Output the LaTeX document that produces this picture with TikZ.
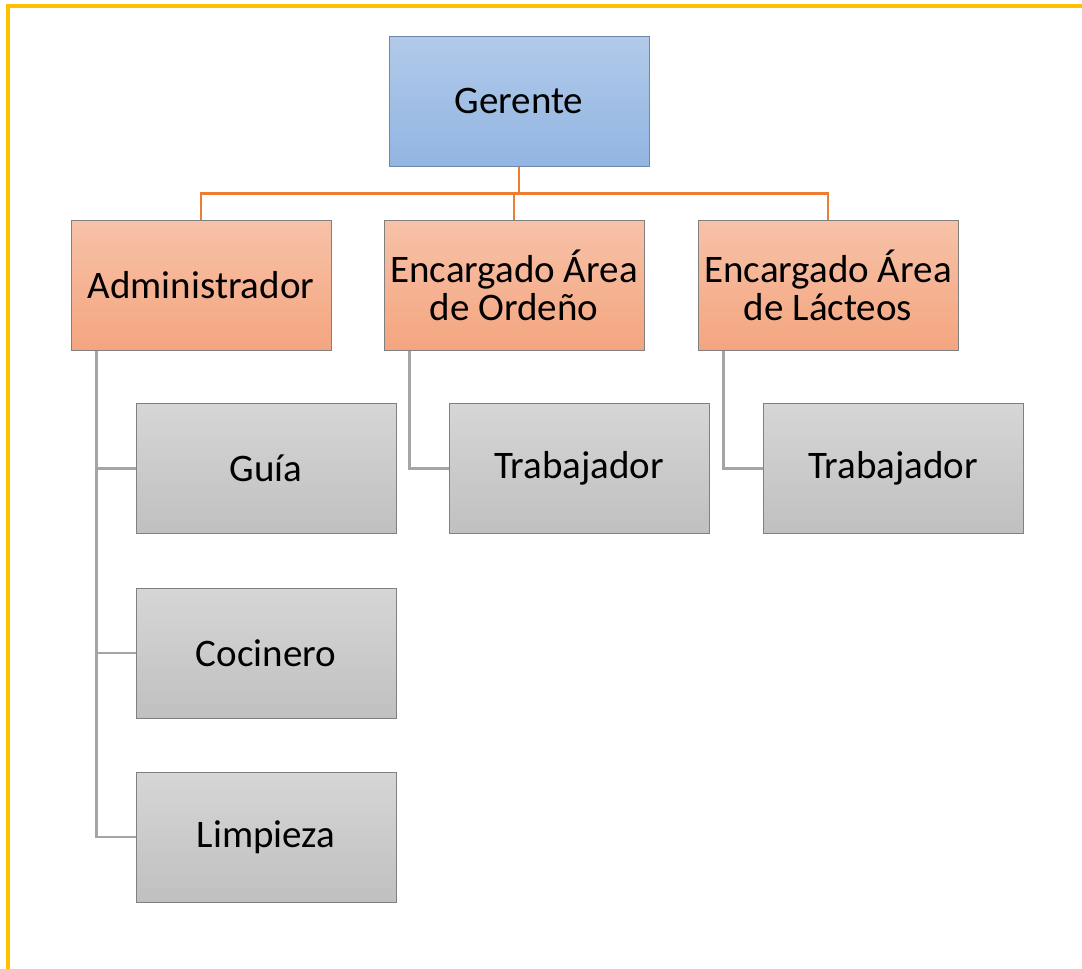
\documentclass[tikz,border=0pt]{standalone}
\usepackage{fontspec}
\setmainfont{Carlito}
\usepackage{xcolor}
\definecolor{frameyellow}{RGB}{255, 192, 0}
\definecolor{bluetop}{RGB}{178, 202, 233}
\definecolor{bluebot}{RGB}{145, 181, 226}
\definecolor{blueedge}{RGB}{110, 135, 170}
\definecolor{orangetop}{RGB}{247, 194, 168}
\definecolor{orangebot}{RGB}{244, 165, 127}
\definecolor{orangeline}{RGB}{237, 125, 49}
\definecolor{graytop}{RGB}{214, 214, 214}
\definecolor{graybot}{RGB}{192, 192, 192}
\definecolor{grayline}{RGB}{165, 165, 165}
\definecolor{boxedge}{RGB}{128, 128, 128}
\usetikzlibrary{calc}

\tikzset{
  orgbox/.style={draw=boxedge, line width=1, minimum width=260,
    minimum height=130, inner sep=0, align=center,
    font=\fontsize{39}{38}\selectfont},
  topbox/.style={orgbox, draw=blueedge, top color=bluetop, bottom color=bluebot},
  midbox/.style={orgbox, top color=orangetop, bottom color=orangebot},
  lowbox/.style={orgbox, top color=graytop, bottom color=graybot},
  upperlink/.style={draw=orangeline, line width=2.5},
  lowerlink/.style={draw=grayline, line width=2.5}
}

\begin{document}
\begin{tikzpicture}[x=1pt,y=-1pt]
\useasboundingbox (0,0) rectangle (1082,969);
\fill[white] (0,0) rectangle (1082,969);
\draw [line width=4, frameyellow] (8,969) -- (8,6) -- (1082,6);

\node[topbox] (ger) at (519,101) {Gerente};
\node[midbox] (adm) at (201,285) {Administrador};
\node[midbox] (ord) at (514,285) {Encargado Área\\de Ordeño};
\node[midbox] (lac) at (828,285) {Encargado Área\\de Lácteos};

\node[lowbox] (guia) at (266,468.5) {Guía};
\node[lowbox] (coci) at (266,653) {Cocinero};
\node[lowbox] (limp) at (266,837) {Limpieza};
\node[lowbox] (trabo) at (579,468.5) {Trabajador};
\node[lowbox] (trabl) at (893,468.5) {Trabajador};

\draw [upperlink] (ger.south) -- ++(0,27) -| (adm.north);
\draw [upperlink] (ger.south) -- ++(0,27) -| (ord.north);
\draw [upperlink] (ger.south) -- ++(0,27) -| (lac.north);

\draw [lowerlink] ([xshift=26]adm.south west) |- (guia.west);
\draw [lowerlink] ([xshift=26]adm.south west) |- (coci.west);
\draw [lowerlink] ([xshift=26]adm.south west) |- (limp.west);
\draw [lowerlink] ([xshift=26]ord.south west) |- (trabo.west);
\draw [lowerlink] ([xshift=26]lac.south west) |- (trabl.west);
\end{tikzpicture}
\end{document}
